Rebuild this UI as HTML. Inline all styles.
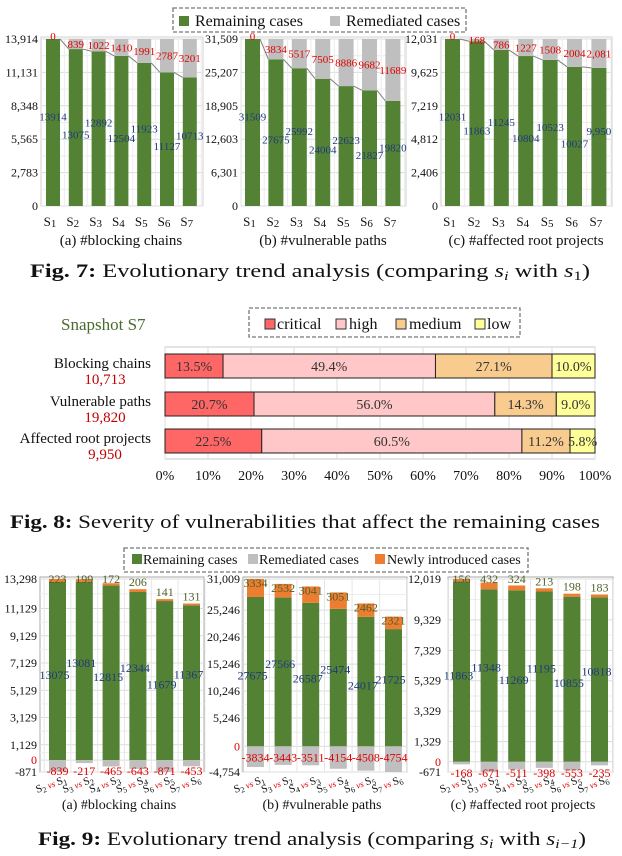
<!DOCTYPE html>
<html><head><meta charset="utf-8">
<style>
html,body{margin:0;padding:0;background:#fff;}
svg{display:block;font-family:"Liberation Serif",serif;}
</style></head>
<body>
<svg id="root" width="622" height="856" viewBox="0 0 622 856" xmlns="http://www.w3.org/2000/svg"></svg>
<script>
// ---------- Fig 7 data ----------
const f7Snapshots = ["1","2","3","4","5","6","7"];
const f7aRemaining = [13914,13075,12892,12504,11923,11127,10713];
const f7aRemediated = [0,839,1022,1410,1991,2787,3201];
const f7aTicks = [0,2783,5565,8348,11131,13914];
const f7bRemaining = [31509,27675,25992,24004,22623,21827,19820];
const f7bRemediated = [0,3834,5517,7505,8886,9682,11689];
const f7bTicks = [0,6301,12603,18905,25207,31509];
const f7cRemaining = [12031,11863,11245,10804,10523,10027,9950];
const f7cRemediated = [0,168,786,1227,1508,2004,2081];
const f7cRemLabels = ["0","168","786","1227","1508","2004","2,081"];
const f7cRemainLabels = ["12031","11863","11245","10804","10523","10027","9,950"];
const f7cTicks = [0,2406,4812,7219,9625,12031];
// ---------- Fig 8 data ----------
const f8Categories = ["Blocking chains","Vulnerable paths","Affected root projects"];
const f8Totals = ["10,713","19,820","9,950"];
const f8Critical = [13.5,20.7,22.5];
const f8High = [49.4,56.0,60.5];
const f8Medium = [27.1,14.3,11.2];
const f8Low = [10.0,9.0,5.8];
const f8Ticks = [0,10,20,30,40,50,60,70,80,90,100];
// ---------- Fig 9 data ----------
const f9Pairs = [["2","1"],["3","2"],["4","3"],["5","4"],["6","5"],["7","6"]];
const f9aRemaining = [13075,13081,12815,12344,11679,11367];
const f9aNew = [223,199,172,206,141,131];
const f9aRemediated = [-839,-217,-465,-643,-871,-453];
const f9aTicks = [-871,0,1129,3129,5129,7129,9129,11129,13298];
const f9bRemaining = [27675,27566,26587,25474,24017,21725];
const f9bNew = [3334,2532,3041,3051,2462,2321];
const f9bRemediated = [-3834,-3443,-3511,-4154,-4508,-4754];
const f9bTicks = [-4754,0,5246,10246,15246,20246,25246,31009];
const f9cRemaining = [11863,11348,11269,11195,10855,10818];
const f9cNew = [156,432,324,213,198,183];
const f9cRemediated = [-168,-671,-511,-398,-553,-235];
const f9cTicks = [-671,0,1329,3329,5329,7329,9329,12019];

const NS="http://www.w3.org/2000/svg";
const root=document.getElementById('root');
function mk(tag,attrs,parent,txt){
  const e=document.createElementNS(NS,tag);
  for(const k in attrs) e.setAttribute(k,attrs[k]);
  if(txt!==undefined) e.textContent=txt;
  (parent||root).appendChild(e);return e;
}
const fmt=v=>v.toLocaleString('en-US');
const GREEN="#548235",GRAY="#bfbfbf",ORANGE="#ed7d31",BLUE="#1f3a7a",RED="#e00000",GRID="#dcdcdc";

function legendBox(x,y,w,h,name){
  const r=mk('rect',{x:x,y:y,width:w,height:h,fill:'#fff',stroke:'#777','stroke-dasharray':'4,2','stroke-width':1.3});
  
  
}
function legendItem(sx,tx,cy,color,label,fs,name,stroke){
  const g=mk('g',{});
  
  
  mk('rect',{x:sx,y:cy-5,width:10,height:10,fill:color,stroke:stroke||'none'},g);
  mk('text',{x:tx,y:cy+5,'font-size':fs,fill:'#111'},g,label);
}

// ---------- Fig 7 ----------
legendBox(173,8,293,24,'fig7-legend');
legendItem(179,195,21,GREEN,'Remaining cases',16,'legend-remaining');
legendItem(330,346,21,GRAY,'Remediated cases',16,'legend-remediated');

function fig7Panel(p){
  const g=mk('g',{});
  
  
  const top=39,bot=206,max=p.ticks[p.ticks.length-1];
  const y=v=>bot-(v/max)*(bot-top);
  mk('rect',{x:p.left,y:top-2,width:p.right-p.left,height:bot-top+2,fill:'#fff',stroke:'#d0d0d0'},g);
  for(let i=0;i<p.ticks.length;i++){
    mk('line',{x1:p.left,x2:p.right,y1:y(p.ticks[i]),y2:y(p.ticks[i]),stroke:GRID},g);
    if(i<p.ticks.length-1){const m=(p.ticks[i]+p.ticks[i+1])/2;mk('line',{x1:p.left,x2:p.right,y1:y(m),y2:y(m),stroke:'#ececec'},g);}
    const t=mk('text',{x:p.labX,y:y(p.ticks[i])+4,'text-anchor':'end','font-size':12,fill:'#111'},g,fmt(p.ticks[i]));
    
    
  }
  for(let i=0;i<=f7Snapshots.length;i++){
    const xx=p.x0+p.step*i-(p.step-p.bw)/2;
    mk('line',{x1:xx,x2:xx,y1:top,y2:bot,stroke:'#ececec'},g);
  }
  const n=p.rem.length;
  for(let i=0;i<n;i++){
    const bx=p.x0+p.step*i;
    const gr=mk('rect',{x:bx,y:y(p.rem[i]),width:p.bw,height:bot-y(p.rem[i]),fill:GREEN},g);
    
    
    const gy=mk('rect',{x:bx,y:y(p.rem[i]+p.med[i]),width:p.bw,height:y(p.rem[i])-y(p.rem[i]+p.med[i]),fill:GRAY},g);
    
    
    if(i<n-1){
      mk('line',{x1:bx+p.bw,y1:y(p.rem[i]),x2:bx+p.step,y2:y(p.rem[i+1]),stroke:'#7f7f7f','stroke-width':1},g);
    }
    mk('text',{x:bx+p.bw/2,y:y(p.rem[i]/2)+4+(i%2?7:-6),'text-anchor':'middle','font-size':11,fill:BLUE},g,p.remLabels?p.remLabels[i]:String(p.rem[i]));
    const ry=p.med[i]===0?top+1:(y(p.rem[i]+p.med[i])+y(p.rem[i]))/2+4;
    mk('text',{x:bx+p.bw/2,y:ry,'text-anchor':'middle','font-size':11,fill:RED},g,p.medLabels?p.medLabels[i]:String(p.med[i]));
    const xl=mk('text',{x:bx+p.bw/2-3,y:226,'text-anchor':'middle','font-size':13,fill:'#111'},g);
    
    
    mk('tspan',{},xl,'S');
    mk('tspan',{'font-size':11,dy:1},xl,f7Snapshots[i]);
  }
  const c=mk('text',{x:p.capX,y:245,'text-anchor':'middle','font-size':15,fill:'#111'},g,p.caption);
  
  
}
fig7Panel({name:'fig7-blocking-chains',left:41,right:203,labX:38,x0:46,step:22.8,bw:14,rem:f7aRemaining,med:f7aRemediated,ticks:f7aTicks,capX:121,caption:'(a) #blocking chains'});
fig7Panel({name:'fig7-vulnerable-paths',left:241,right:406,labX:238,x0:245,step:23.4,bw:15,rem:f7bRemaining,med:f7bRemediated,ticks:f7bTicks,capX:323,caption:'(b) #vulnerable paths'});
fig7Panel({name:'fig7-affected-root-projects',left:441,right:612,labX:438,x0:445,step:24.4,bw:15,rem:f7cRemaining,med:f7cRemediated,medLabels:f7cRemLabels,remLabels:f7cRemainLabels,ticks:f7cTicks,capX:526,caption:'(c) #affected root projects'});

(function(){
  const t=mk('text',{x:30,y:277,'font-size':19,fill:'#111',textLength:560,lengthAdjust:'spacingAndGlyphs'});
  
  
  mk('tspan',{'font-weight':'bold'},t,'Fig. 7:');
  mk('tspan',{},t,' Evolutionary trend analysis (comparing ');
  mk('tspan',{'font-style':'italic'},t,'s');
  mk('tspan',{'font-style':'italic','font-size':13,dy:3},t,'i');
  mk('tspan',{dy:-3},t,' with ');
  mk('tspan',{'font-style':'italic'},t,'s');
  mk('tspan',{'font-size':13,dy:3},t,'1');
  mk('tspan',{dy:-3},t,')');
})();

// ---------- Fig 8 ----------
(function(){
  const g=mk('g',{});
  
  
  const s=mk('text',{x:61,y:330,'font-size':17,fill:'#4a6b2e'},g,'Snapshot S7');
  
  
  legendBox(249,308,271,29,'fig8-legend');
  legendItem(265,277,324,'#ff6666','critical',16,'legend-critical','#333');
  legendItem(336,349,324,'#ffc7c7','high',16,'legend-high','#333');
  legendItem(396,409,324,'#f8cb8f','medium',16,'legend-medium','#333');
  legendItem(475,487,324,'#ffff99','low',16,'legend-low','#333');
  const x0=165,x1=595,top=347,bot=459;
  const x=v=>x0+v/100*(x1-x0);
  mk('rect',{x:x0,y:top,width:x1-x0,height:bot-top,fill:'#fff',stroke:'#c8c8c8'},g);
  f8Ticks.forEach(t=>{
    mk('line',{x1:x(t),x2:x(t),y1:top,y2:bot,stroke:GRID},g);
    const tl=mk('text',{x:x(t),y:480,'text-anchor':'middle','font-size':14,fill:'#111'},g,t+'%');
    
    
  });
  const rowsY=[354,392,429],cols=['#ff6666','#ffc7c7','#f8cb8f','#ffff99'];
  const series=[f8Critical,f8High,f8Medium,f8Low],names=['critical','high','medium','low'];
  for(let r=0;r<f8Categories.length;r++){
    let acc=0;
    for(let s2=0;s2<4;s2++){
      const v=series[s2][r];
      const rc=mk('rect',{x:x(acc),y:rowsY[r],width:x(acc+v)-x(acc),height:24,fill:cols[s2],stroke:'#222','stroke-width':1},g);
      
      
      mk('text',{x:(x(acc)+x(acc+v))/2,y:rowsY[r]+17,'text-anchor':'middle','font-size':14,fill:'#333'},g,v.toFixed(1)+'%');
      acc+=v;
    }
    const lab=mk('text',{x:151,y:rowsY[r]+14,'text-anchor':'end','font-size':15,fill:'#111'},g,f8Categories[r]);
    
    
    mk('text',{x:105,y:rowsY[r]+30,'text-anchor':'middle','font-size':15,fill:'#c00000'},g,f8Totals[r]);
  }
  const t=mk('text',{x:10,y:528,'font-size':19,fill:'#111',textLength:590,lengthAdjust:'spacingAndGlyphs'});
  
  
  mk('tspan',{'font-weight':'bold'},t,'Fig. 8:');
  mk('tspan',{},t,' Severity of vulnerabilities that affect the remaining cases');
})();

// ---------- Fig 9 ----------
legendBox(124,548,404,24,'fig9-legend');
legendItem(132,143,559,GREEN,'Remaining cases',14,'legend-remaining');
legendItem(248,259,559,GRAY,'Remediated cases',14,'legend-remediated');
legendItem(375,387,559,ORANGE,'Newly introduced cases',14,'legend-new');

function fig9Panel(p){
  const g=mk('g',{});
  
  
  const top=579,bot=772,mn=p.ticks[0],mx=p.ticks[p.ticks.length-1];
  const y=v=>top+(mx-v)/(mx-mn)*(bot-top);
  mk('rect',{x:p.left,y:top-2,width:p.right-p.left,height:bot-top+2,fill:'#fff',stroke:'#aaa'},g);
  p.ticks.forEach((t,i)=>{
    mk('line',{x1:p.left,x2:p.right,y1:y(t),y2:y(t),stroke:GRID},g);
    if(i>0&&i<p.ticks.length-1){const m=(t+p.ticks[i+1])/2;mk('line',{x1:p.left,x2:p.right,y1:y(m),y2:y(m),stroke:'#eeeeee'},g);}
    const tl=mk('text',{x:p.labX,y:y(t)+4,'text-anchor':'end','font-size':12,fill:t===0?RED:'#111'},g,fmt(t));
    
    
  });
  const n=p.rem.length;
  for(let i=0;i<=n;i++){
    const xx=p.x0+p.step*i-(p.step-p.bw)/2;
    mk('line',{x1:xx,x2:xx,y1:top,y2:bot,stroke:'#e6e6e6'},g);
  }
  for(let i=0;i<n;i++){
    const bx=p.x0+p.step*i,cx=bx+p.bw/2;
    const gr=mk('rect',{x:bx,y:y(p.rem[i]),width:p.bw,height:y(0)-y(p.rem[i]),fill:GREEN},g);
    
    
    const or=mk('rect',{x:bx,y:y(p.rem[i]+p.nw[i]),width:p.bw,height:y(p.rem[i])-y(p.rem[i]+p.nw[i]),fill:ORANGE},g);
    
    
    const gy=mk('rect',{x:bx,y:y(0),width:p.bw,height:y(p.med[i])-y(0),fill:GRAY},g);
    
    
    mk('text',{x:cx-3,y:y(p.rem[i]/2)+4+(i%2?-8:4),'text-anchor':'middle','font-size':12,fill:BLUE},g,String(p.rem[i]));
    mk('text',{x:cx,y:Math.max(y(p.rem[i]+p.nw[i])+p.newOff,583),'text-anchor':'middle','font-size':12,fill:'#4f6228'},g,String(p.nw[i]));
    mk('text',{x:cx,y:y(0)+15,'text-anchor':'middle','font-size':12,fill:RED},g,String(p.med[i]));
    const xl=mk('text',{x:cx+10,y:782,'text-anchor':'end','font-size':11,fill:'#111',transform:'rotate(-20 '+(cx+10)+' 782)'},g);
    
    
    mk('tspan',{},xl,'S');
    mk('tspan',{'font-size':8,dy:2},xl,f9Pairs[i][0]);
    mk('tspan',{fill:RED,'font-style':'italic','font-size':9,dy:-2},xl,' vs ');
    mk('tspan',{},xl,'S');
    mk('tspan',{'font-size':8,dy:2},xl,f9Pairs[i][1]);
  }
  const c=mk('text',{x:p.capX,y:809,'text-anchor':'middle','font-size':14,fill:'#111'},g,p.caption);
  
  
}
fig9Panel({name:'fig9-blocking-chains',left:40,right:204,labX:37,x0:49,step:26.8,bw:17,rem:f9aRemaining,nw:f9aNew,med:f9aRemediated,ticks:f9aTicks,newOff:-3,capX:119,caption:'(a) #blocking chains'});
fig9Panel({name:'fig9-vulnerable-paths',left:243,right:407,labX:240,x0:247,step:27.6,bw:17,rem:f9bRemaining,nw:f9bNew,med:f9bRemediated,ticks:f9bTicks,newOff:8,capX:322,caption:'(b) #vulnerable paths'});
fig9Panel({name:'fig9-affected-root-projects',left:448,right:613,labX:441,x0:453,step:27.6,bw:17,rem:f9cRemaining,nw:f9cNew,med:f9cRemediated,ticks:f9cTicks,newOff:-3,capX:523,caption:'(c) #affected root projects'});

(function(){
  const t=mk('text',{x:38,y:845,'font-size':19,fill:'#111',textLength:548,lengthAdjust:'spacingAndGlyphs'});
  
  
  mk('tspan',{'font-weight':'bold'},t,'Fig. 9:');
  mk('tspan',{},t,' Evolutionary trend analysis (comparing ');
  mk('tspan',{'font-style':'italic'},t,'s');
  mk('tspan',{'font-style':'italic','font-size':13,dy:3},t,'i');
  mk('tspan',{dy:-3},t,' with ');
  mk('tspan',{'font-style':'italic'},t,'s');
  mk('tspan',{'font-style':'italic','font-size':13,dy:3},t,'i\u22121');
  mk('tspan',{dy:-3},t,')');
})();
</script>
</body></html>
